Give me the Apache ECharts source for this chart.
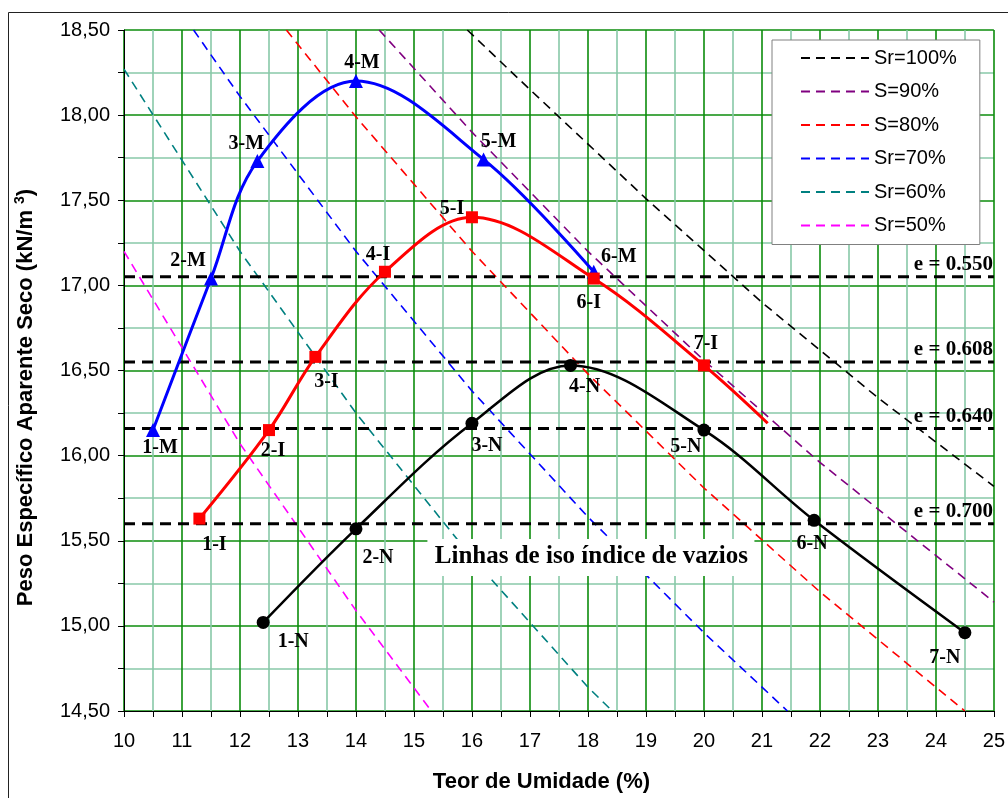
<!DOCTYPE html>
<html>
<head>
<meta charset="utf-8">
<script src="https://cdn.jsdelivr.net/npm/echarts@6/dist/echarts.min.js"></script>
<style>
html,body{margin:0;padding:0;background:#fff;}
#chart{width:1008px;height:798px;}
</style>
</head>
<body>
<div id="chart"></div>
<script>
// ---------- DATA ----------
const xTickMin = 10, xTickMax = 25;
const yTickMin = 14.5, yTickMax = 18.5;

// Compaction curves
const namesM = ['1-M','2-M','3-M','4-M','5-M','6-M'];
const wM     = [10.5, 11.5, 12.3, 14.0, 16.2, 18.1];
const gM     = [16.15, 17.04, 17.73, 18.20, 17.74, 17.08];

const namesI = ['1-I','2-I','3-I','4-I','5-I','6-I','7-I',''];
const wI     = [11.3, 12.5, 13.3, 14.5, 16.0, 18.1, 20.0, 21.1];
const gI     = [15.63, 16.15, 16.58, 17.08, 17.40, 17.04, 16.53, 16.19];

const namesN = ['1-N','2-N','3-N','4-N','5-N','6-N','7-N'];
const wN     = [12.4, 14.0, 16.0, 17.7, 20.0, 21.9, 24.5];
const gN     = [15.02, 15.57, 16.19, 16.53, 16.15, 15.62, 14.96];

// Saturation lines
const satNames = ['Sr=100%','S=90%','S=80%','Sr=70%','Sr=60%','Sr=50%'];
const sat100 = [[15.92,18.50],[17,18.15],[19,17.51],[21,16.90],[23,16.34],[25,15.82]];
const sat90  = [[14.4,18.50],[16,17.90],[18,17.20],[20,16.56],[22,15.96],[25,15.14]];
const sat80  = [[12.8,18.50],[14,17.99],[16,17.20],[18,16.48],[20,15.81],[22,15.20],[24.5,14.50]];
const sat70  = [[11.2,18.50],[12,18.11],[14,17.20],[16,16.38],[18,15.64],[20,14.96],[21.44,14.50]];
const sat60  = [[10,18.27],[12,17.20],[14,16.25],[16,15.40],[18,14.64],[18.42,14.50]];
const sat50  = [[10,17.20],[12,16.07],[14,15.09],[15.3,14.50]];

// Iso void-ratio lines
const eLabels = ['e = 0.550','e = 0.608','e = 0.640','e = 0.700'];
const eValues = [17.05, 16.55, 16.16, 15.60];

const noteText = 'Linhas de iso índice de vazios';
const noteAnchor = [18.06, 15.41];

// ---------- STYLES ----------
const satColors = ['#000000','#800080','#ff0000','#0000ff','#008080','#ff00ff'];
const offM = [[7,18],[-23,-18],[-11,-17],[6,-18],[15,-18],[25,-15]];
const offI = [[15,26],[4,21],[11,25],[-7,-17],[-20,-8],[-5,24],[2,-22],null];
const offN = [[30,19],[22,29],[15,23],[14,21],[-18,17],[-2,24],[-20,25]];

const serif = '"Liberation Serif","Times New Roman",serif';
const sans = '"Liberation Sans",Arial,sans-serif';

function curveData(ws, gs, names, offs){
  return ws.map((w,i)=>{
    const item = {value:[w, gs[i]]};
    if (names[i]) {
      item.label = {show:true, position:'inside', offset:offs[i], formatter:names[i],
        align:'center', verticalAlign:'middle',
        fontFamily:serif, fontWeight:'bold', fontSize:20, color:'#000'};
    } else {
      item.symbol = 'none';
      item.label = {show:false};
    }
    return item;
  });
}

const satData = [sat100, sat90, sat80, sat70, sat60, sat50];
const series = [];
satData.forEach((d,i)=>{
  series.push({
    name: satNames[i], type:'line', data:d, symbol:'none', smooth:false,
    lineStyle:{color:satColors[i], width:1.6, type:[9,6]},
    itemStyle:{color:satColors[i]}, z:2, silent:true
  });
});
eValues.forEach((v,i)=>{
  series.push({
    name:'e'+i, type:'line', data:[[xTickMin,v],[xTickMax,v]], symbol:'none',
    lineStyle:{color:'#000', width:3, type:[11,7]}, z:3, silent:true
  });
});
series.push({
  name:'M', type:'line', data:curveData(wM,gM,namesM,offM), smooth:0.35,
  symbol:'triangle', symbolSize:14, lineStyle:{color:'#0000ff', width:3},
  itemStyle:{color:'#0000ff'}, z:5
});
series.push({
  name:'I', type:'line', data:curveData(wI,gI,namesI,offI), smooth:0.35,
  symbol:'rect', symbolSize:12, lineStyle:{color:'#ff0000', width:3},
  itemStyle:{color:'#ff0000'}, z:5
});
series.push({
  name:'N', type:'line', data:curveData(wN,gN,namesN,offN), smooth:0.35,
  symbol:'circle', symbolSize:13, lineStyle:{color:'#000', width:2.5},
  itemStyle:{color:'#000'}, z:5
});

const axisCommon = {
  type:'value',
  axisLine:{show:true, onZero:false, lineStyle:{color:'#000', width:1}},
  axisTick:{show:true, length:6, lineStyle:{color:'#000'}},
  minorTick:{show:true, splitNumber:2, length:6, lineStyle:{color:'#000'}},
  splitLine:{show:true, lineStyle:{color:'#0c8c0c', width:1.6}},
  minorSplitLine:{show:true, lineStyle:{color:'#88c8a8', width:1.6}}
};

const chart = echarts.init(document.getElementById('chart'), null, {renderer:'canvas'});
chart.setOption({
  animation:false,
  backgroundColor:'#fff',
  grid:{left:124, right:12, top:30, bottom:86, containLabel:false},
  legend:{
    data:satNames, orient:'vertical', left:772, top:40,
    backgroundColor:'#fff', borderColor:'#808080', borderWidth:1,
    padding:[8,23,9,28], itemWidth:68, itemHeight:14, itemGap:13.5,
    itemStyle:{opacity:0},
    textStyle:{fontFamily:sans, fontSize:20, color:'#000', lineHeight:20},
    selectedMode:false
  },
  xAxis:Object.assign({}, axisCommon, {
    min:xTickMin, max:xTickMax, interval:1,
    axisLabel:{margin:20, fontFamily:sans, fontSize:20, color:'#000'},
    name:'Teor de Umidade (%)', nameLocation:'middle', nameGap:60,
    nameTextStyle:{fontFamily:sans, fontSize:22, fontWeight:'bold', color:'#000', padding:[0,35,0,0]}
  }),
  yAxis:Object.assign({}, axisCommon, {
    min:yTickMin, max:yTickMax, interval:0.5,
    axisLabel:{margin:14, fontFamily:sans, fontSize:20, color:'#000',
      formatter:v=>v.toFixed(2).replace('.',',')},
    name:'{n|Peso Específico Aparente Seco (kN/m }{s|3}{n|)}',
    nameLocation:'middle', nameGap:85, nameRotate:90,
    nameTextStyle:{padding:[0,54,0,0],
      rich:{
        n:{fontFamily:sans, fontSize:22, fontWeight:'bold', color:'#000', lineHeight:26},
        s:{fontFamily:sans, fontSize:14, fontWeight:'bold', color:'#000', lineHeight:14, verticalAlign:'top'}
      }}
  }),
  series:series
});

// Annotations positioned from data coordinates
const graphics = [];
graphics.push({type:'rect', silent:true, z:100,
  shape:{x:8.5, y:12.5, width:1100, height:900},
  style:{fill:null, stroke:'#222', lineWidth:1}});
eValues.forEach((v,i)=>{
  const p = chart.convertToPixel({gridIndex:0}, [xTickMax, v]);
  graphics.push({type:'text', silent:true, z:50, x:p[0]-1, y:p[1]-12,
    style:{text:eLabels[i], font:'bold 21px '+serif, fill:'#000', align:'right', verticalAlign:'middle'}});
});
const np = chart.convertToPixel({gridIndex:0}, noteAnchor);
graphics.push({type:'rect', silent:true, z:50,
  shape:{x:np[0]-164, y:np[1]-17, width:327, height:37}, style:{fill:'#fff'}});
graphics.push({type:'text', silent:true, z:51, x:np[0], y:np[1],
  style:{text:noteText, font:'bold 25px '+serif, fill:'#000', align:'center', verticalAlign:'middle'}});
chart.setOption({graphic:graphics});
</script>
</body>
</html>
